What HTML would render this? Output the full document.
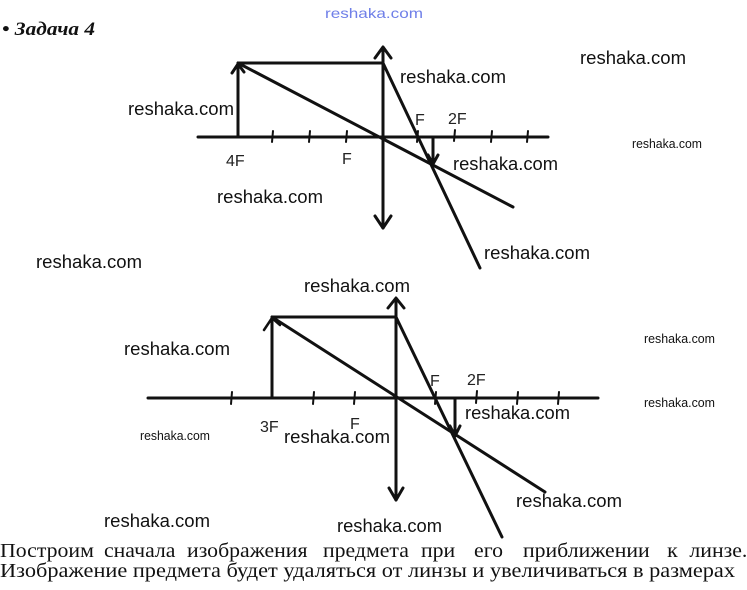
<!DOCTYPE html>
<html><head><meta charset="utf-8"><style>
html,body{margin:0;padding:0;background:#fff;}
svg{display:block;}
.w{font-family:"Liberation Sans",sans-serif;font-size:18.5px;fill:#111;}
.s{font-family:"Liberation Sans",sans-serif;font-size:12.5px;fill:#111;}
.h{font-family:"Liberation Sans",sans-serif;font-size:16px;fill:#222;font-weight:normal;}
.t{font-family:"Liberation Serif","DejaVu Serif",serif;font-size:20px;fill:#111;}
</style></head><body>
<svg width="747" height="590" viewBox="0 0 747 590" xmlns="http://www.w3.org/2000/svg">
<rect width="747" height="590" fill="#fff"/>
<text x="325" y="18" font-family="Liberation Sans,sans-serif" font-size="14" fill="#6f7fe8" textLength="98" lengthAdjust="spacingAndGlyphs">reshaka.com</text>
<text x="2" y="35" font-family="Liberation Serif,serif" font-size="19" font-weight="bold" font-style="italic" fill="#111" textLength="93" lengthAdjust="spacingAndGlyphs">• Задача 4</text>

<g stroke="#111" stroke-width="3" fill="none" stroke-linecap="round" stroke-linejoin="round">
<!-- diagram 1 -->
<line x1="198" y1="137" x2="548" y2="137"/>
<g stroke-width="2">
<line x1="273" y1="131" x2="272" y2="142"/>
<line x1="310" y1="131" x2="309" y2="142"/>
<line x1="347" y1="131" x2="346" y2="142"/>
<line x1="418" y1="131" x2="417" y2="142"/>
<line x1="455" y1="130" x2="454" y2="141"/>
<line x1="492" y1="131" x2="491" y2="142"/>
<line x1="528" y1="131" x2="527" y2="142"/>
</g>
<line x1="238" y1="137" x2="238" y2="64"/>
<polyline points="232,73 238,64 244,72"/>
<line x1="238" y1="63" x2="383" y2="63"/>
<line x1="383" y1="48" x2="383" y2="228"/>
<polyline points="375,58 383,47 391,58"/>
<polyline points="375,216 383,228 391,216"/>
<line x1="238" y1="63" x2="513" y2="207"/>
<line x1="383" y1="63" x2="480" y2="268"/>
<line x1="433" y1="137" x2="433" y2="164"/>
<polyline points="428,155 433,164 438,155"/>

<!-- diagram 2 -->
<line x1="148" y1="398" x2="598" y2="398"/>
<g stroke-width="2">
<line x1="232" y1="392" x2="231" y2="404"/>
<line x1="314" y1="392" x2="313" y2="404"/>
<line x1="355" y1="392" x2="354" y2="404"/>
<line x1="436" y1="392" x2="435" y2="404"/>
<line x1="477" y1="391" x2="476" y2="403"/>
<line x1="518" y1="392" x2="517" y2="404"/>
<line x1="559" y1="392" x2="558" y2="404"/>
</g>
<line x1="272" y1="398" x2="272" y2="318"/>
<polyline points="264,330 272,318 280,325" stroke-width="2.5"/>
<line x1="272" y1="317" x2="396" y2="317"/>
<line x1="396" y1="299" x2="396" y2="500"/>
<polyline points="388,308 396,298 404,308"/>
<polyline points="389,488 396,500 403,488"/>
<line x1="272" y1="317" x2="545" y2="492"/>
<line x1="396" y1="317" x2="502" y2="537"/>
<line x1="455" y1="398" x2="455" y2="436"/>
<polyline points="450,426 455,436 460,426"/>
</g>

<!-- handwritten labels -->
<text class="h" x="415" y="125">F</text>
<text class="h" x="448" y="124" font-size="15">2F</text>
<text class="h" x="226" y="166" font-size="17">4F</text>
<text class="h" x="342" y="164">F</text>
<text class="h" x="430" y="386" font-size="18">F</text>
<text class="h" x="467" y="385" font-size="16">2F</text>
<text class="h" x="260" y="432" font-size="20">3F</text>
<text class="h" x="350" y="429" font-size="16">F</text>

<!-- watermarks -->
<text class="w" x="580" y="64" textLength="106" lengthAdjust="spacingAndGlyphs">reshaka.com</text>
<text class="w" x="400" y="83" textLength="106" lengthAdjust="spacingAndGlyphs">reshaka.com</text>
<text class="w" x="128" y="115" textLength="106" lengthAdjust="spacingAndGlyphs">reshaka.com</text>
<text class="s" x="632" y="148" textLength="70" lengthAdjust="spacingAndGlyphs">reshaka.com</text>
<text class="w" x="453" y="170" textLength="105" lengthAdjust="spacingAndGlyphs">reshaka.com</text>
<text class="w" x="217" y="203" textLength="106" lengthAdjust="spacingAndGlyphs">reshaka.com</text>
<text class="w" x="484" y="259" textLength="106" lengthAdjust="spacingAndGlyphs">reshaka.com</text>
<text class="w" x="36" y="268" textLength="106" lengthAdjust="spacingAndGlyphs">reshaka.com</text>
<text class="w" x="304" y="292" textLength="106" lengthAdjust="spacingAndGlyphs">reshaka.com</text>
<text class="s" x="644" y="343" textLength="71" lengthAdjust="spacingAndGlyphs">reshaka.com</text>
<text class="w" x="124" y="355" textLength="106" lengthAdjust="spacingAndGlyphs">reshaka.com</text>
<text class="s" x="644" y="407" textLength="71" lengthAdjust="spacingAndGlyphs">reshaka.com</text>
<text class="w" x="465" y="419" textLength="105" lengthAdjust="spacingAndGlyphs">reshaka.com</text>
<text class="s" x="140" y="440" textLength="70" lengthAdjust="spacingAndGlyphs">reshaka.com</text>
<text class="w" x="284" y="443" textLength="106" lengthAdjust="spacingAndGlyphs">reshaka.com</text>
<text class="w" x="516" y="507" textLength="106" lengthAdjust="spacingAndGlyphs">reshaka.com</text>
<text class="w" x="104" y="527" textLength="106" lengthAdjust="spacingAndGlyphs">reshaka.com</text>
<text class="w" x="337" y="532" textLength="105" lengthAdjust="spacingAndGlyphs">reshaka.com</text>

<!-- bottom text -->
<g transform="scale(1.09,1)">
<text class="t" y="557"><tspan x="0">Построим</tspan><tspan x="95.4">сначала</tspan><tspan x="171.6">изображения</tspan><tspan x="296.3">предмета</tspan><tspan x="386.2">при</tspan><tspan x="434.9">его</tspan><tspan x="479.8">приближении</tspan><tspan x="612">к</tspan><tspan x="632.5">линзе.</tspan></text>
</g>
<text class="t" x="0" y="577" textLength="735" lengthAdjust="spacingAndGlyphs">Изображение предмета будет удаляться от линзы и увеличиваться в размерах</text>
</svg>
</body></html>
